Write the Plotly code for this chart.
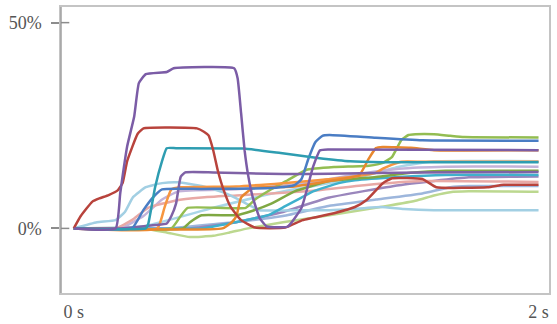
import plotly.graph_objects as go

# Share of total (%) over time (s) for each tracked series.
purple_t = [0, 0.18, 0.20, 0.23, 0.26, 0.28, 0.31, 0.40, 0.43, 0.69, 0.705, 0.72, 0.735, 0.75, 0.77, 0.80, 0.83, 0.92, 0.98, 1.03, 1.06, 1.10, 2.0]
purple_v = [0, 0, 8.6, 20, 27.2, 35.3, 37.5, 38.0, 38.9, 38.9, 36.5, 28, 19, 13, 7.6, 2.5, 0.5, 0.4, 5, 15, 19, 19.2, 19]

darkred_t = [0, 0.03, 0.08, 0.11, 0.15, 0.19, 0.21, 0.23, 0.275, 0.30, 0.53, 0.56, 0.58, 0.60, 0.62, 0.645, 0.675, 0.72, 0.78, 0.91, 0.985, 1.12, 1.21, 1.26, 1.33, 1.37, 1.50, 1.56, 1.78, 1.85, 2.0]
darkred_v = [0, 3, 6.5, 7.3, 8.1, 9.3, 11, 16.4, 23, 24.3, 24.3, 23.5, 22.6, 19, 14, 9.3, 5.2, 2, 0.2, 0.2, 2, 3.7, 5.2, 6.9, 11, 12.2, 12.0, 10.0, 10.0, 10.6, 10.6]

teal_t = [0, 0.31, 0.32, 0.35, 0.38, 0.40, 0.44, 0.73, 0.89, 1.05, 1.19, 1.33, 2.0]
teal_v = [0, 0, 1, 10, 16.4, 19.5, 19.5, 19.4, 18.3, 17.1, 16.3, 16.1, 16.1]

blue_t = [0, 0.25, 0.30, 0.34, 0.38, 0.55, 0.85, 0.95, 0.98, 1.01, 1.04, 1.07, 1.10, 1.30, 1.50, 2.0]
blue_v = [0, 0, 4.5, 7.5, 9.5, 9.6, 9.8, 10.5, 12, 17, 21, 22.5, 22.7, 22, 21.4, 21.3]

purple2_t = [0, 0.20, 0.35, 0.40, 0.42, 0.44, 0.46, 0.48, 0.60, 0.90, 1.10, 1.50, 2.0]
purple2_v = [0, 0, 0.8, 1.2, 3, 6, 12.5, 13.6, 13.6, 13.2, 13.3, 13.6, 13.7]

orange2_t = [0, 0.64, 0.68, 0.70, 0.72, 0.77, 0.85, 0.95, 1.10, 1.20, 1.23, 1.27, 1.30, 1.33, 1.45, 1.55, 2.0]
orange2_v = [0, 0, 1.5, 3, 7.5, 9.8, 10, 10.2, 11.5, 12.5, 13, 17, 19.5, 19.8, 19.6, 19, 19]

orange1_t = [0, 0.36, 0.39, 0.42, 0.46, 0.70, 0.90, 1.05, 1.23, 1.30, 1.33, 1.37, 1.41, 1.50, 2.0]
orange1_v = [0, 0, 5, 9.5, 10, 10.2, 11, 11.7, 12.8, 13.5, 14.5, 15.5, 16.2, 16.2, 16.2]

lightblue_t = [0, 0.10, 0.18, 0.22, 0.255, 0.31, 0.38, 0.45, 0.55, 0.64, 0.70, 0.76, 0.80, 0.95, 1.10, 1.20, 1.32, 1.42, 1.55, 2.0]
lightblue_v = [0, 1.5, 2, 4, 7.6, 10, 11, 11.2, 10.3, 8.8, 7.3, 5.5, 4.4, 4.4, 4.4, 4.7, 5.2, 4.7, 4.4, 4.4]

lightgreen_t = [0, 0.30, 0.40, 0.50, 0.60, 0.67, 0.75, 0.90, 1.10, 1.30, 1.47, 1.55, 1.62, 1.70, 2.0]
lightgreen_v = [0, 0, -1, -2.1, -1.8, -1, 0, 1.5, 3.2, 5, 6.7, 8, 8.8, 9, 8.9]

green_t = [0, 0.42, 0.46, 0.49, 0.74, 0.78, 0.85, 0.92, 1.00, 1.12, 1.27, 1.33, 1.37, 1.41, 1.44, 1.47, 1.55, 1.62, 1.68, 2.0]
green_v = [0, 0, 3, 5, 5, 7, 9.5, 11.7, 14.2, 14.9, 15.2, 15.9, 17.4, 21.5, 22.7, 22.9, 22.9, 22.5, 22.2, 22.1]

green2_t = [0, 0.47, 0.50, 0.55, 0.70, 0.77, 0.85, 0.95, 1.10, 1.30, 1.45, 1.60, 2.0]
green2_v = [0, 0, 1.5, 3.2, 3.2, 4.3, 6, 9, 11.5, 12.5, 13.5, 14, 14]

pink_t = [0, 0.18, 0.25, 0.32, 0.44, 0.55, 0.70, 1.00, 1.25, 1.50, 2.0]
pink_v = [0, 0, 2, 5, 6.8, 7.5, 8, 9, 10.5, 11.5, 11.3]

lavender_t = [0, 0.20, 0.30, 0.38, 0.45, 0.70, 1.00, 1.20, 1.40, 1.60, 2.0]
lavender_v = [0, 0, 3, 7, 9, 9.5, 11, 13, 14.5, 15, 15]

cyan_t = [0, 0.55, 0.65, 0.84, 0.91, 0.98, 1.03, 1.14, 1.21, 1.40, 1.60, 2.0]
cyan_v = [0, 0, 1, 3.3, 5.4, 7.5, 9, 11, 11.7, 12.5, 13, 13]

periwinkle_t = [0, 0.40, 0.60, 0.90, 1.10, 1.30, 1.50, 1.62, 1.70, 2.0]
periwinkle_v = [0, 0, 1, 3, 5.5, 7, 8.5, 10, 10.3, 10.3]

lightcyan_t = [0, 0.30, 0.60, 0.90, 1.20, 1.40, 1.55, 2.0]
lightcyan_v = [0, 0.5, 5, 9, 12, 15, 16.3, 16.3]

mauve_t = [0, 0.50, 0.70, 0.90, 1.10, 1.40, 1.70, 2.0]
mauve_v = [0, 0, 1.5, 4, 7.5, 10.5, 12.4, 12.6]

# Draw order: pale lines underneath, strong lines on top.
series = [
    (lightcyan_t, lightcyan_v, "#a9d6e8"),
    (periwinkle_t, periwinkle_v, "#9db6dc"),
    (lightgreen_t, lightgreen_v, "#bcd88f"),
    (mauve_t, mauve_v, "#9a86bc"),
    (lavender_t, lavender_v, "#c3b3d9"),
    (pink_t, pink_v, "#e8a9a6"),
    (lightblue_t, lightblue_v, "#a2cfe3"),
    (cyan_t, cyan_v, "#3fb0cc"),
    (green2_t, green2_v, "#7fa843"),
    (green_t, green_v, "#93bd52"),
    (orange1_t, orange1_v, "#f7963f"),
    (orange2_t, orange2_v, "#e8872e"),
    (purple2_t, purple2_v, "#7f62a6"),
    (blue_t, blue_v, "#4a7dc4"),
    (teal_t, teal_v, "#2e9db1"),
    (darkred_t, darkred_v, "#b8433c"),
    (purple_t, purple_v, "#7b5ca6"),
]

fig = go.Figure()
for t, v, color in series:
    fig.add_trace(go.Scatter(
        x=t, y=v, mode="lines",
        line=dict(color=color, width=2.5, shape="spline", smoothing=0.4),
        hoverinfo="skip", showlegend=False,
    ))

font = dict(family="Liberation Serif", size=18, color="#555555")

fig.update_layout(
    width=557, height=324,
    margin=dict(l=61, r=8, t=7, b=31, autoexpand=False),
    paper_bgcolor="white", plot_bgcolor="white",
    showlegend=False,
    font=font,
    xaxis=dict(
        range=[-0.055, 2.045], automargin=False,
        tickvals=[0, 2], ticktext=["0 s", "2 s"],
        ticks="outside", ticklen=2, tickcolor="rgba(0,0,0,0)",
        showgrid=False, zeroline=False,
        showline=True, linecolor="#c4c4c4", linewidth=1.5, mirror=True,
        tickfont=font,
    ),
    yaxis=dict(
        range=[-15.7, 53.8], automargin=False,
        tickvals=[0, 50], ticktext=["0%", "50%"],
        ticks="outside", ticklen=8, tickcolor="#8c8c8c", tickwidth=1.5,
        ticklabelstandoff=6,
        showgrid=False, zeroline=False,
        showline=True, linecolor="#c4c4c4", linewidth=1.5, mirror=True,
        tickfont=font,
    ),
)

# Left axis drawn darker, with ticks crossing it.
fig.add_shape(type="line", xref="paper", yref="paper", x0=0, x1=0, y0=0, y1=1,
              line=dict(color="#a0a0a0", width=1.5))
for yv in [0, 50]:
    fig.add_shape(type="line", xref="paper", yref="y", x0=0, x1=0.017, y0=yv, y1=yv,
                  line=dict(color="#8c8c8c", width=1.5))

fig.write_html("out.html")
